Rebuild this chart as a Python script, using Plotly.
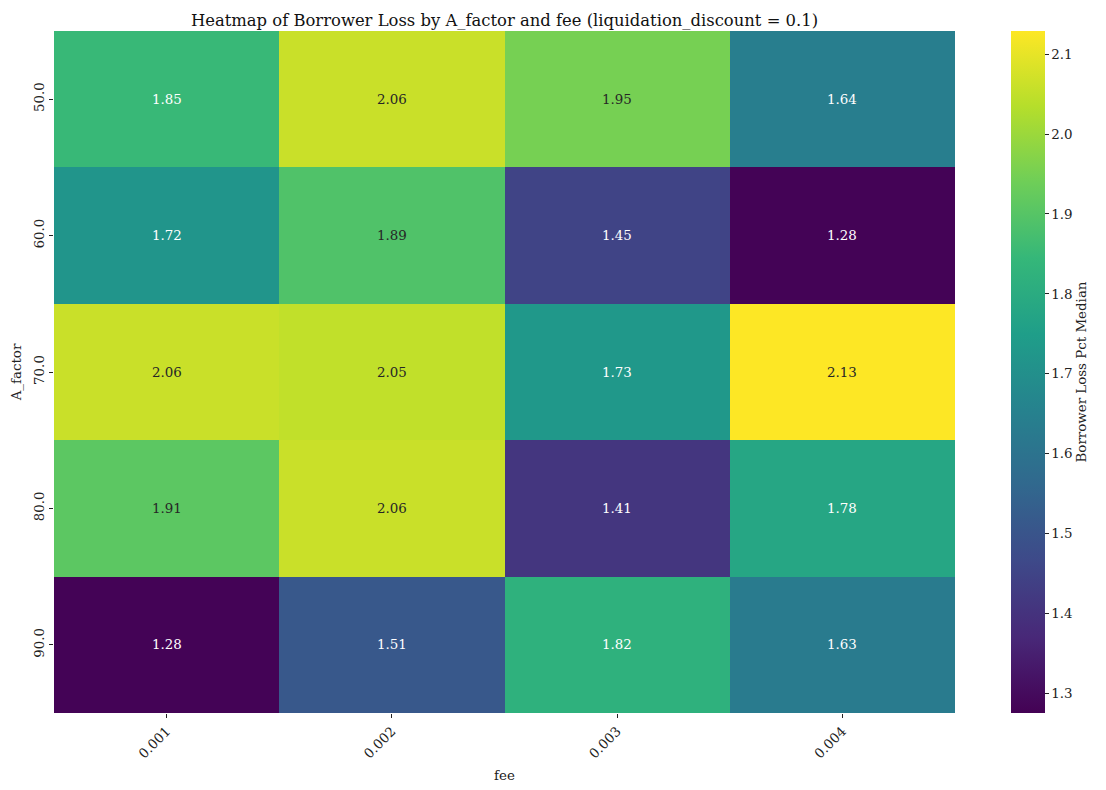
import plotly.graph_objects as go
import plotly.colors as pc

fees = ["0.001", "0.002", "0.003", "0.004"]
a_factors = ["50.0", "60.0", "70.0", "80.0", "90.0"]
values = [
    [1.85, 2.06, 1.95, 1.64],
    [1.72, 1.89, 1.45, 1.28],
    [2.06, 2.05, 1.73, 2.13],
    [1.91, 2.06, 1.41, 1.78],
    [1.28, 1.51, 1.82, 1.63],
]
zmin, zmax = 1.2753, 2.129
cb_ticks = [1.3, 1.4, 1.5, 1.6, 1.7, 1.8, 1.9, 2.0, 2.1]

FONT = "DejaVu Serif"
FS = 13.4

def rel_lum(rgb):
    out = []
    for c in rgb:
        c = c / 255.0
        out.append(c / 12.92 if c <= 0.03928 else ((c + 0.055) / 1.055) ** 2.4)
    return 0.2126 * out[0] + 0.7152 * out[1] + 0.0722 * out[2]

scale = pc.sequential.Viridis

fig = go.Figure(go.Heatmap(
    z=values, x=fees, y=a_factors,
    colorscale="Viridis", zmin=zmin, zmax=zmax,
    xgap=0, ygap=0,
    colorbar=dict(
        title=dict(text="Borrower Loss Pct Median", side="right",
                   font=dict(family=FONT, size=FS, color="#222")),
        thickness=34, len=1, lenmode="fraction", y=0.5, yanchor="middle",
        x=1.062, xanchor="left", xpad=0, ypad=0, outlinewidth=0,
        tickvals=cb_ticks, ticktext=[f"{t:.1f}" for t in cb_ticks],
        ticks="outside", ticklen=4, tickcolor="#222",
        tickfont=dict(family=FONT, size=FS, color="#222"),
    ),
    hoverinfo="skip",
))

annotations = []
for i, row in enumerate(values):
    for j, v in enumerate(row):
        t = (v - zmin) / (zmax - zmin)
        t = min(max(t, 0), 1)
        col = pc.sample_colorscale(scale, [t], colortype="tuple")[0]
        rgb = [c * 255 if c <= 1 else c for c in col]
        lum = rel_lum(rgb)
        tc = "#262626" if lum > 0.408 else "white"
        annotations.append(dict(x=j, y=i, xref="x", yref="y", text=f"{v:.2f}",
                                showarrow=False,
                                font=dict(family=FONT, size=FS, color=tc)))

fig.update_layout(
    width=1106, height=790,
    margin=dict(l=46, r=159, t=23, b=85),
    paper_bgcolor="white", plot_bgcolor="white",
    title=dict(text="Heatmap of Borrower Loss by A_factor and fee (liquidation_discount = 0.1)",
               xref="paper", x=0.5, xanchor="center",
               yref="paper", y=1, yanchor="bottom", pad=dict(b=5),
               font=dict(family=FONT, size=16.4, color="#111")),
    annotations=annotations,
    font=dict(family=FONT, color="#222"),
)
fig.update_xaxes(
    type="category", automargin=False,
    title=dict(text="fee", font=dict(family=FONT, size=FS, color="#222"), standoff=10),
    tickangle=-45, ticks="outside", ticklen=4, tickcolor="#222",
    tickfont=dict(family=FONT, size=FS, color="#222"), showgrid=False, zeroline=False,
)
fig.update_yaxes(
    type="category", automargin=False,
    title=dict(text="A_factor", font=dict(family=FONT, size=FS, color="#222"), standoff=6),
    autorange="reversed", tickangle=-90, ticks="outside", ticklen=4, tickcolor="#222",
    tickfont=dict(family=FONT, size=FS, color="#222"), showgrid=False, zeroline=False,
)

fig.write_html("out.html")
